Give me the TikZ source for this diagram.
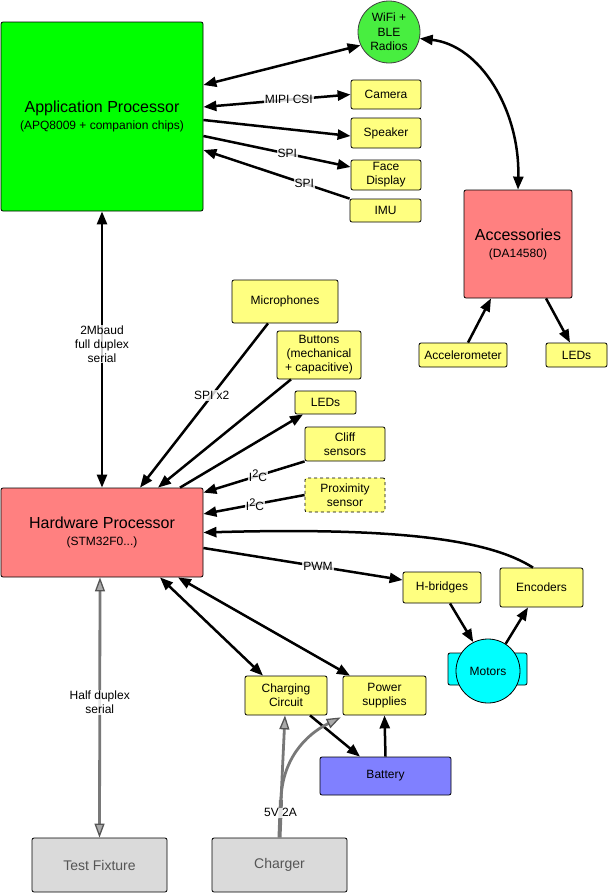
\documentclass[tikz,border=0pt]{standalone}
\usepackage{fontspec}
\setmainfont{Liberation Sans}
\usetikzlibrary{arrows.meta,calc}
\definecolor{apgreen}{RGB}{0,255,0}
\definecolor{wifigreen}{RGB}{72,238,64}
\definecolor{boxyellow}{RGB}{255,255,128}
\definecolor{boxred}{RGB}{255,128,128}
\definecolor{boxblue}{RGB}{128,128,255}
\definecolor{boxcyan}{RGB}{0,255,255}
\definecolor{boxgray}{RGB}{218,218,218}
\definecolor{linegray}{RGB}{120,120,120}
\definecolor{tipgray}{RGB}{85,85,85}
\definecolor{tipfill}{RGB}{170,170,170}
\definecolor{textgray}{RGB}{85,85,85}
\newcommand{\itwoc}{I\raisebox{4pt}{\fontsize{11}{11}\selectfont 2}C}
\begin{document}
\begin{tikzpicture}[x=1pt,y=-1pt,
  box/.style={draw=black, rounded corners=2pt, line width=0.8pt, align=center, inner sep=0pt, font=\fontsize{12}{14}\selectfont},
  ybox/.style={box, fill=boxyellow},
  bigbox/.style={box, font=\fontsize{16}{18}\selectfont},
  conn/.style={line width=2.5pt, black},
  arr/.style={conn, -{Triangle[length=13pt,width=10pt]}},
  darr/.style={conn, {Triangle[length=13pt,width=10pt]}-{Triangle[length=13pt,width=10pt]}},
  gline/.style={line width=2.8pt, draw=linegray},
  gtip/.tip={Triangle[length=14pt,width=10pt,line width=1.3pt,color=tipgray,fill=tipfill]},
  garr/.style={gline, -gtip},
  gdarr/.style={gline, gtip-gtip},
  lbl/.style={fill=white, fill opacity=0.8, text opacity=1, inner sep=1pt, font=\fontsize{12}{14}\selectfont, align=center}
]
\useasboundingbox (0,0) rectangle (609,894);

% main nodes
\node[bigbox, fill=apgreen, minimum width=202pt, minimum height=189pt] (ap) at (102,116.5)
  {Application Processor\\[-1pt]\fontsize{12}{14}\selectfont (APQ8009 + companion chips)};
\node[circle, draw=black!75, line width=0.8pt, fill=wifigreen, minimum size=62pt, inner sep=0pt, align=center, font=\fontsize{12}{14.5}\selectfont] (wifi) at (389,32) {WiFi +\\BLE\\Radios};
\node[ybox, minimum width=70pt, minimum height=29pt] (cam) at (386,94.5) {Camera};
\node[ybox, minimum width=70pt, minimum height=30pt] (spk) at (386,133) {Speaker};
\node[ybox, minimum width=70pt, minimum height=30pt] (face) at (386,175) {Face\\Display};
\node[ybox, minimum width=71pt, minimum height=23pt] (imu) at (385.5,210.5) {IMU};
\node[bigbox, fill=boxred, minimum width=108pt, minimum height=108pt] (acc) at (518,244)
  {Accessories\\[-1pt]\fontsize{12}{14}\selectfont (DA14580)};
\node[ybox, minimum width=88pt, minimum height=24pt] (accel) at (463,355) {Accelerometer};
\node[ybox, minimum width=61pt, minimum height=24pt] (accleds) at (576.5,355) {LEDs};

\node[ybox, minimum width=106pt, minimum height=43pt] (mic) at (285,301.5) {Microphones};
\node[ybox, minimum width=84pt, minimum height=48pt] (btn) at (319,355) {Buttons\\(mechanical\\+ capacitive)};
\node[ybox, minimum width=61pt, minimum height=23pt] (leds) at (325.5,402.5) {LEDs};
\node[ybox, minimum width=80pt, minimum height=34pt] (cliff) at (345,444) {Cliff\\sensors};
\node[ybox, dashed, minimum width=80pt, minimum height=34pt] (prox) at (345,495) {Proximity\\sensor};

\node[bigbox, fill=boxred, minimum width=202pt, minimum height=89pt] (hp) at (102,532.5)
  {Hardware Processor\\[-1pt]\fontsize{12}{14}\selectfont (STM32F0...)};

\node[ybox, minimum width=78pt, minimum height=31pt] (hb) at (442,587.5) {H-bridges};
\node[ybox, minimum width=83pt, minimum height=39pt] (enc) at (541.5,587.5) {Encoders};
\node[box, fill=boxcyan, minimum width=79pt, minimum height=32pt] (motbase) at (487.5,669) {};
\node[circle, draw=black, line width=0.8pt, fill=boxcyan, minimum size=64pt, inner sep=0pt, font=\fontsize{12}{14}\selectfont] (mot) at (488,671) {Motors};

\node[ybox, minimum width=82pt, minimum height=39pt] (cc) at (286,695.5) {Charging\\Circuit};
\node[ybox, minimum width=83pt, minimum height=39pt] (ps) at (384.5,695.5) {Power\\supplies};
\node[box, fill=boxblue, minimum width=131pt, minimum height=38pt] (bat) at (385.5,776) {Battery};

\node[box, fill=boxgray, text=textgray, font=\fontsize{14}{16}\selectfont, minimum width=135pt, minimum height=54pt] (tf) at (99.5,865) {Test Fixture};
\node[box, fill=boxgray, text=textgray, font=\fontsize{14}{16}\selectfont, minimum width=135pt, minimum height=54pt] (chg) at (279.5,865) {Charger};

% application processor connections
\draw[darr] ([yshift=31.5pt]ap.east) -- (wifi.205);
\draw[darr] ([yshift=9.5pt]ap.east) -- node[lbl, pos=0.58] {MIPI CSI} (cam.west);
\draw[arr] ([yshift=-3.5pt]ap.east) -- ([yshift=-3pt]spk.west);
\draw[arr] ([yshift=-19.5pt]ap.east) -- node[lbl, pos=0.57] {SPI} ([yshift=8pt]face.west);
\draw[arr] (imu.north west) -- node[lbl, pos=0.31] {SPI} ([yshift=-33.5pt]ap.east);
\draw[darr] (ap.south) -- node[lbl, pos=0.48] {2Mbaud\\full duplex\\serial} (hp.north);

% accessories
\draw[darr] (wifi.-12) .. controls (480,45) and (520,110) .. (acc.north);
\draw[arr] ([xshift=5pt]accel.north) -- ([xshift=-27pt]acc.south);
\draw[arr] ([xshift=28pt]acc.south) -- ([xshift=-6.5pt]accleds.north);

% hardware processor peripherals
\draw[arr] ([xshift=-17pt]mic.south) -- node[lbl, pos=0.44] {SPI x2} ([xshift=38pt]hp.north);
\draw[arr] ([xshift=-28pt]btn.south) -- ([xshift=56pt]hp.north);
\draw[arr] ([xshift=78pt]hp.north) -- ([xshift=-22.5pt]leds.south);
\draw[arr] (cliff.south west) -- node[lbl, pos=0.46] {\itwoc} ([yshift=-5pt]hp.north east);
\draw[arr] (prox.west) -- node[lbl, pos=0.49] {\itwoc} ([yshift=18.5pt]hp.east);
\draw[arr] ([xshift=-8.5pt]enc.north) .. controls (490,540) and (400,527) .. (hp.east);
\draw[arr] ([yshift=-15.5pt]hp.east) -- node[lbl, pos=0.575] {PWM} ([yshift=7.5pt]hb.west);
\draw[arr] ([xshift=8pt]hb.south) -- (mot.117);
\draw[arr] (mot.57) -- ([xshift=-13.5pt]enc.south);

% power
\draw[darr] ([xshift=58pt]hp.south) -- ([xshift=-23pt]cc.north);
\draw[darr] ([xshift=76pt]hp.south) -- ([xshift=-34.5pt]ps.north);
\draw[arr] ([xshift=24pt]cc.south) -- ([xshift=-25.5pt]bat.north);
\draw[arr] (bat.north) -- (ps.south);

% gray connections
\draw[gdarr] ([xshift=-2pt]hp.south) -- node[lbl, pos=0.48] {Half duplex\\serial} (tf.north);
\coordinate (stem) at (281,800);
\draw[gline, line width=4pt] (chg.north) -- node[lbl, pos=0.66] {5V 2A} (stem);
\draw[garr] (stem) -- ([xshift=-1pt]cc.south);
\draw[garr] (stem) .. controls (282,760) and (305,735) .. ([shift={(-2pt,-2pt)}]ps.south west);
\end{tikzpicture}
\end{document}
